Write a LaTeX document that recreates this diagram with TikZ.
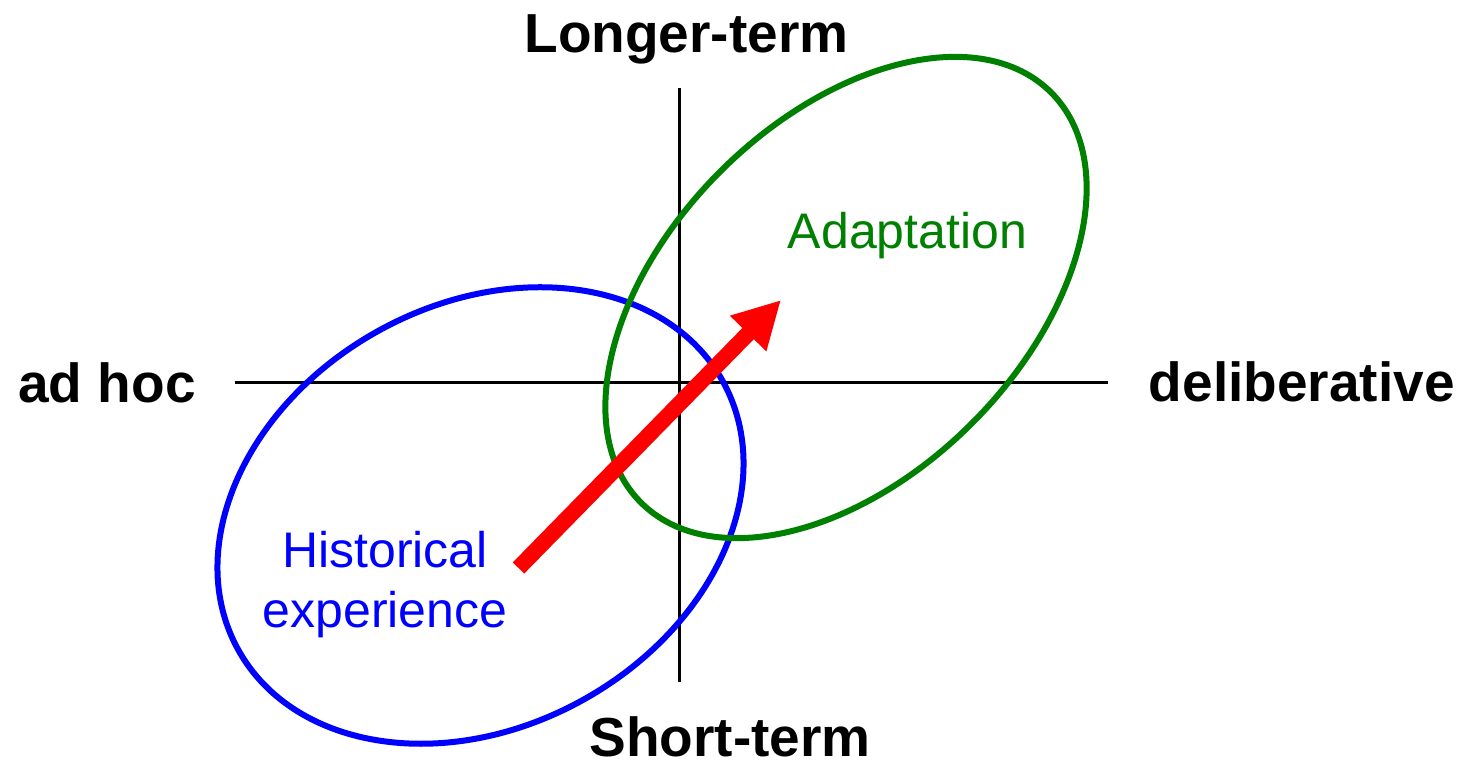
\documentclass[tikz,border=0pt]{standalone}
\usepackage{fontspec}
\setmainfont{Liberation Sans}
\usetikzlibrary{arrows.meta,shapes.geometric}

\definecolor{darkgreen}{RGB}{0,128,0}

\begin{document}
\begin{tikzpicture}
        [x=0.5pt,y=-0.5pt,
         axis/.style={line width=1.5pt},
         pole/.style={font=\fontsize{27.5}{33}\selectfont\bfseries,inner sep=0pt},
         area/.style={draw,ellipse,line width=3pt,inner sep=0pt},
         tag/.style={font=\fontsize{25}{30}\selectfont,inner sep=0pt,align=center},
         move/.style={red,line width=8pt,-{Triangle[length=23.5pt,width=23.7pt]}}]

        \useasboundingbox (0,0) rectangle (1467,763);

        % axes
        \coordinate (west) at (235,383);
        \coordinate (east) at (1108,383);
        \coordinate (north) at (679,88);
        \coordinate (south) at (679,682);
        \draw[axis] (west) -- (east);
        \draw[axis] (north) -- (south);

        % ends of the axes
        \node[pole,anchor=base] (long) at (686.5,53) {Longer-term};
        \node[pole,anchor=base] (short) at (730,757) {Short-term};
        \node[pole,anchor=base west] (adhoc) at (18,403) {ad hoc};
        \node[pole,anchor=base east] (delib) at (1455,402) {deliberative};

        % the two regions
        \node[area,blue,minimum width=277pt,minimum height=211pt,rotate=29] (hist) at (480.5,515.5) {};
        \node[area,darkgreen,minimum width=290pt,minimum height=178pt,rotate=45] (adapt) at (846,297.5) {};

        \node[tag,blue,anchor=base] (histtext) at (385,628) {Historical\\experience};
        \node[tag,darkgreen,anchor=base] (adapttext) at (907.5,249) {Adaptation};

        % move from one to the other
        \coordinate (from) at (518.5,568);
        \coordinate (to) at (781,300);
        \draw[move] (from) -- (to);
    \end{tikzpicture}
\end{document}
